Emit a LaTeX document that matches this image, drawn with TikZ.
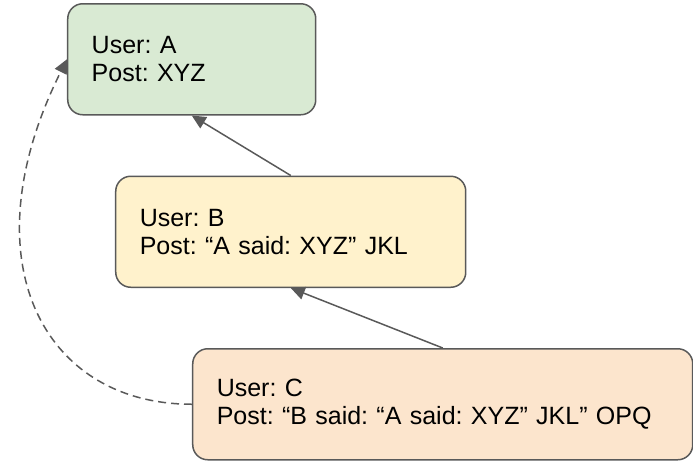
\documentclass[tikz,border=0pt]{standalone}
\usepackage{fontspec}
\setmainfont{Liberation Sans}
\frenchspacing
\usetikzlibrary{positioning,arrows.meta}
\definecolor{postgreen}{HTML}{D9EAD3}
\definecolor{postyellow}{HTML}{FFF2CC}
\definecolor{postorange}{HTML}{FCE5CD}
\definecolor{linegray}{HTML}{595959}
\begin{document}
\begin{tikzpicture}[x=0.5pt, y=-0.5pt,
      -{Triangle[length=7pt,width=6.5pt]},
      post/.style={draw=linegray, line width=0.75pt,
        rounded corners=7.5pt,
        align=left, inner xsep=12pt, inner ysep=0pt,
        minimum height=55.5pt,
        font=\fontsize{12.5}{14}\selectfont},
      link/.style={draw=linegray, line width=0.75pt},
      ]
    \useasboundingbox (0,0) rectangle (693,462);

    \node (a) [post, fill=postgreen, text width=100pt,
      anchor=north west] at (67,3) {User: A\\Post: XYZ};

    \node (b) [post, fill=postyellow, text width=151pt,
      below=30pt of a.south west, anchor=north west, xshift=24pt]
      {User: B\\Post: “A said: XYZ” JKL};

    \node (c) [post, fill=postorange, text width=226pt,
      below=30pt of b.south west, anchor=north west, xshift=38.5pt]
      {User: C\\Post: “B said: “A said: XYZ” JKL” OPQ};

    \draw [link] (b.north) -- (a.south);
    \draw [link] (c.north) -- (b.south);

    % quoted post reaches back to the original
    \draw [link, dash pattern=on 4pt off 2.5pt]
    (c.west) .. controls +(-150,0) and +(-100,200) .. (a.west);
  \end{tikzpicture}
\end{document}
